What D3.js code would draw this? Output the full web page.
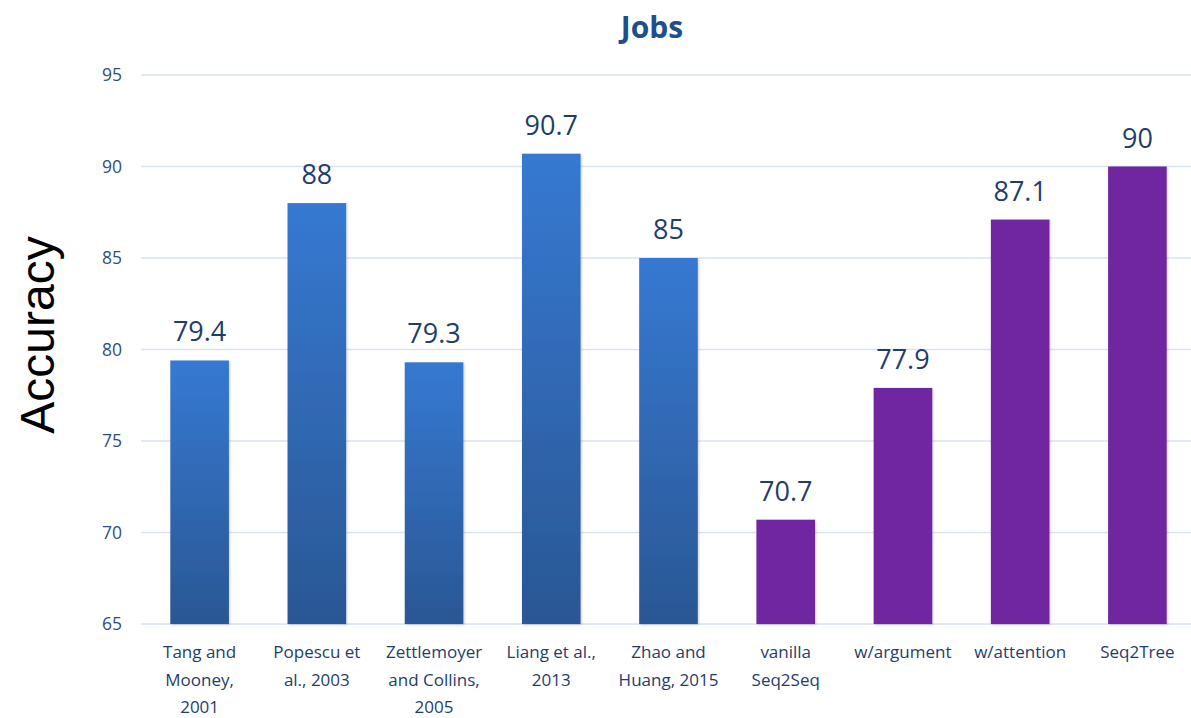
<!DOCTYPE html>
<html>
<head>
<meta charset="utf-8">
<script src="https://cdn.jsdelivr.net/npm/d3@7"></script>
<style>
  body { margin: 0; background: #fff; }
</style>
</head>
<body>
<div class="container"></div>
<script>
// Chart data
const categories = [
  ["Tang and", "Mooney,", "2001"],
  ["Popescu et", "al., 2003"],
  ["Zettlemoyer", "and Collins,", "2005"],
  ["Liang et al.,", "2013"],
  ["Zhao and", "Huang, 2015"],
  ["vanilla", "Seq2Seq"],
  ["w/argument"],
  ["w/attention"],
  ["Seq2Tree"]
];
const values = [79.4, 88, 79.3, 90.7, 85, 70.7, 77.9, 87.1, 90];
const groups = ["prior", "prior", "prior", "prior", "prior", "ours", "ours", "ours", "ours"];
const yTicks = [65, 70, 75, 80, 85, 90, 95];

const width = 1191;
const height = 718;
const margin = { top: 75, right: -5, bottom: 94, left: 141 };

const svg = d3.select(".container")
  .append("svg")
  .attr("width", width)
  .attr("height", height);

const defs = svg.append("defs");
const grad = defs.append("linearGradient")
  .attr("id", "blueGrad")
  .attr("x1", 0).attr("y1", 0).attr("x2", 0).attr("y2", 1);
grad.append("stop").attr("offset", "0%").attr("stop-color", "#3679d2");
grad.append("stop").attr("offset", "100%").attr("stop-color", "#2a5794");

const shadow = defs.append("filter").attr("id", "shadow")
  .attr("x", "-10%").attr("y", "-5%").attr("width", "130%").attr("height", "110%");
shadow.append("feDropShadow")
  .attr("dx", 1).attr("dy", 1).attr("stdDeviation", 1.2)
  .attr("flood-color", "#000").attr("flood-opacity", 0.2);

const x = d3.scaleBand()
  .domain(d3.range(values.length))
  .range([margin.left, width - margin.right])
  .paddingInner(0.5)
  .paddingOuter(0.25);

const y = d3.scaleLinear()
  .domain([65, 95])
  .range([height - margin.bottom, margin.top]);

// Gridlines
svg.append("g")
  .selectAll("line")
  .data(yTicks)
  .enter()
  .append("line")
  .attr("x1", margin.left)
  .attr("x2", width)
  .attr("y1", d => y(d))
  .attr("y2", d => y(d))
  .attr("stroke", "#d9e2ef")
  .attr("stroke-width", 1.5);

// Y tick labels
svg.append("g")
  .selectAll("text")
  .data(yTicks)
  .enter()
  .append("text")
  .attr("x", 122)
  .attr("y", d => y(d))
  .attr("dy", "0.35em")
  .attr("text-anchor", "end")
  .attr("font-family", "'Open Sans', sans-serif")
  .attr("font-size", 17.5)
  .attr("fill", "#2d4f7f")
  .text(d => d);

// Bars
svg.append("g")
  .selectAll("rect")
  .data(values)
  .enter()
  .append("rect")
  .attr("x", (d, i) => x(i))
  .attr("y", d => y(d))
  .attr("width", x.bandwidth())
  .attr("height", d => y(65) - y(d))
  .attr("fill", (d, i) => groups[i] === "prior" ? "url(#blueGrad)" : "#6f27a0")
  .attr("filter", "url(#shadow)");

// Value labels
svg.append("g")
  .selectAll("text")
  .data(values)
  .enter()
  .append("text")
  .attr("x", (d, i) => x(i) + x.bandwidth() / 2)
  .attr("y", d => y(d) - 19)
  .attr("text-anchor", "middle")
  .attr("font-family", "'Open Sans', sans-serif")
  .attr("font-size", 27)
  .attr("fill", "#1f3d6b")
  .text(d => d);

// X labels
const xl = svg.append("g")
  .selectAll("text")
  .data(categories)
  .enter()
  .append("text")
  .attr("x", (d, i) => x(i) + x.bandwidth() / 2)
  .attr("y", 658)
  .attr("text-anchor", "middle")
  .attr("font-family", "'Open Sans', sans-serif")
  .attr("font-size", 17)
  .attr("fill", "#1f3d6b");
xl.selectAll("tspan")
  .data(d => d)
  .enter()
  .append("tspan")
  .attr("x", function () { return d3.select(this.parentNode).attr("x"); })
  .attr("dy", (d, j) => j === 0 ? 0 : 27.5)
  .text(d => d);

// Title
svg.append("text")
  .attr("x", 652)
  .attr("y", 38)
  .attr("text-anchor", "middle")
  .attr("font-family", "'Open Sans', sans-serif")
  .attr("font-weight", "bold")
  .attr("font-size", 30)
  .attr("fill", "#1f4e8c")
  .text("Jobs");

// Y axis title
svg.append("text")
  .attr("transform", "translate(54,335) rotate(-90)")
  .attr("text-anchor", "middle")
  .attr("font-family", "'Liberation Sans', Arial, sans-serif")
  .attr("font-size", 48)
  .attr("fill", "#000")
  .text("Accuracy");
</script>
</body>
</html>
